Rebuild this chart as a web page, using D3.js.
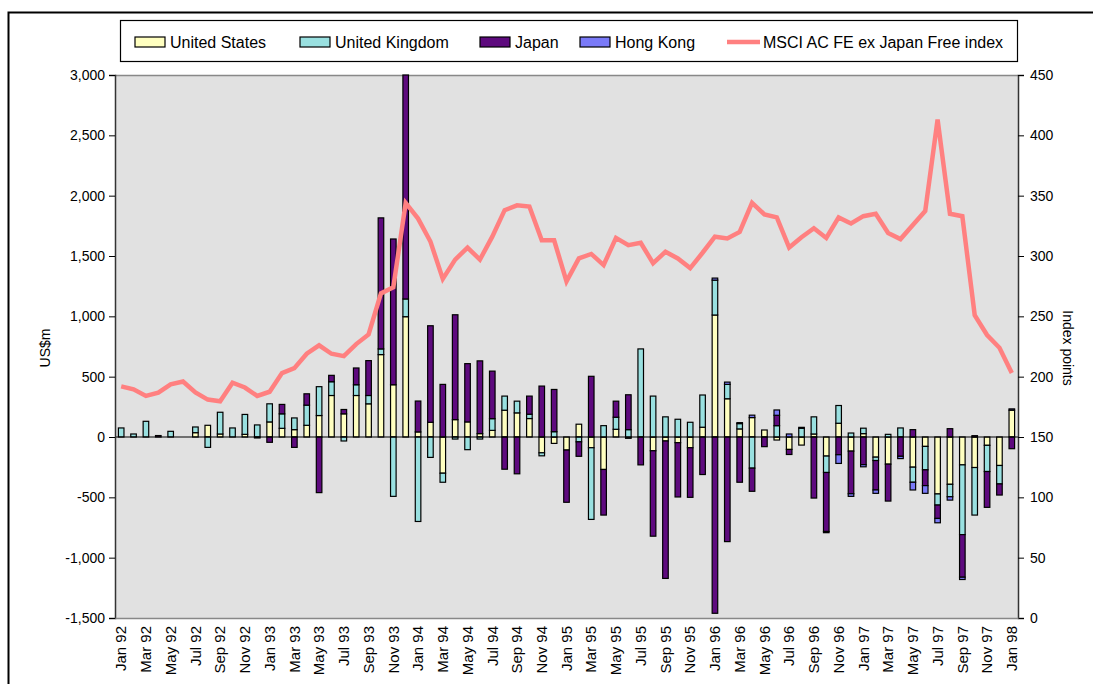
<!DOCTYPE html>
<html>
<head>
<meta charset="utf-8">
<script src="https://cdnjs.cloudflare.com/ajax/libs/d3/7.8.5/d3.min.js"></script>
<style>
  body { margin: 0; background: #fff; }
  text { font-family: "Liberation Sans", Arial, sans-serif; fill: #000; }
</style>
</head>
<body>
<div id="chart"></div>
<script>
// monthly categories, Jan 92 .. Jan 98
var months = [
  "Jan 92","Feb 92","Mar 92","Apr 92","May 92","Jun 92","Jul 92","Aug 92","Sep 92","Oct 92","Nov 92","Dec 92",
  "Jan 93","Feb 93","Mar 93","Apr 93","May 93","Jun 93","Jul 93","Aug 93","Sep 93","Oct 93","Nov 93","Dec 93",
  "Jan 94","Feb 94","Mar 94","Apr 94","May 94","Jun 94","Jul 94","Aug 94","Sep 94","Oct 94","Nov 94","Dec 94",
  "Jan 95","Feb 95","Mar 95","Apr 95","May 95","Jun 95","Jul 95","Aug 95","Sep 95","Oct 95","Nov 95","Dec 95",
  "Jan 96","Feb 96","Mar 96","Apr 96","May 96","Jun 96","Jul 96","Aug 96","Sep 96","Oct 96","Nov 96","Dec 96",
  "Jan 97","Feb 97","Mar 97","Apr 97","May 97","Jun 97","Jul 97","Aug 97","Sep 97","Oct 97","Nov 97","Dec 97",
  "Jan 98"];

// flows, US$m
var unitedStates = [
  0,0,0,0,0,0,36,97,25,0,22,0,
  125,72,61,97,178,344,192,344,275,683,433,997,
  42,122,-300,144,125,28,55,222,200,153,-131,-53,
  -108,106,-89,-269,64,-11,0,-114,-33,-47,-89,81,
  1011,317,67,161,58,-25,-103,-67,25,-158,114,-117,
  28,-167,-225,0,-250,-78,-472,-392,-231,-253,-69,-236,
  222];
var unitedKingdom = [
  75,25,130,0,47,0,47,-86,180,75,165,100,
  150,120,97,167,239,114,-33,89,69,47,-492,147,
  -700,-169,-75,-17,-105,-17,97,117,97,36,-25,44,
  0,-40,-594,94,100,61,730,339,167,147,122,267,
  289,119,44,-258,0,94,0,72,142,-136,147,33,
  45,-28,22,75,-125,-194,-92,-103,-578,-394,-217,-153,
  0];
var japan = [
  0,0,0,12,0,0,0,0,0,0,0,-8,
  -44,78,-86,94,-461,53,36,139,289,1086,1208,1856,
  256,800,436,869,483,603,394,-267,-305,150,422,350,
  -433,-120,503,-378,133,289,-231,-708,-1139,-450,-411,-311,
  -1461,-867,-375,-192,-80,86,-42,0,-506,-489,-147,-353,
  -229,-244,-306,-160,61,-131,-111,69,-353,11,-297,-92,
  -97];
var hongKong = [
  0,0,0,0,0,0,0,0,0,0,0,0,
  0,0,0,0,0,0,0,0,0,0,0,0,
  0,0,0,0,0,0,0,0,0,0,0,0,
  0,0,0,0,0,0,0,0,0,0,0,0,
  17,19,8,20,0,44,25,8,0,-10,-72,-22,
  -18,-28,0,-19,-64,-64,-36,-28,-19,0,0,0,
  11];
// MSCI AC FE ex Japan Free index, index points
var msciIndex = [
  192,189.5,184,186.7,193.6,196,187,181,179.6,195,191,184,
  187.5,203,207,219,226,219,217,227,235,269,274,344,
  331,312,281,297,307,297,316,338,342,341,313,313,
  279,298,301.7,292.5,315,309,311,294,303.5,298,290,302.7,
  316,314.6,320,344,334.5,332,307,315.5,323,315,332,327,
  333,335,319,314,325.7,337.3,413,335,333,251,234.5,224,
  203];

var seriesNames = ["United States", "United Kingdom", "Japan", "Hong Kong"];
var seriesColors = ["#FFFFC0", "#99E0E0", "#5E0A7E", "#7A7AF8"];
var lineName = "MSCI AC FE ex Japan Free index";
var lineColor = "#FF8080";
var leftTicks = [-1500, -1000, -500, 0, 500, 1000, 1500, 2000, 2500, 3000];
var rightTicks = [0, 50, 100, 150, 200, 250, 300, 350, 400, 450];

var W = 1093, H = 684;
var plot = {left: 115, right: 1018, top: 75, bottom: 618};

var svg = d3.select("#chart").append("svg")
    .attr("width", W)
    .attr("height", H);

// outer frame (runs off the right and bottom edges)
svg.append("rect")
    .attr("x", 8.5).attr("y", 12.5)
    .attr("width", 1200).attr("height", 800)
    .attr("fill", "none")
    .attr("stroke", "#000")
    .attr("stroke-width", 2);

// table for the stack
var table = months.map(function(m, i) {
  return {
    month: m,
    "United States": unitedStates[i],
    "United Kingdom": unitedKingdom[i],
    "Japan": japan[i],
    "Hong Kong": hongKong[i]
  };
});

var x = d3.scaleBand()
    .domain(months)
    .range([plot.left, plot.right])
    .paddingInner(0.55)
    .paddingOuter(0.275);

var y = d3.scaleLinear()
    .domain([-1500, 3000])
    .range([plot.bottom, plot.top]);

var y2 = d3.scaleLinear()
    .domain([0, 450])
    .range([plot.bottom, plot.top]);

// plot background
svg.append("rect")
    .attr("x", plot.left).attr("y", plot.top)
    .attr("width", plot.right - plot.left)
    .attr("height", plot.bottom - plot.top)
    .attr("fill", "#E1E1E1");
svg.append("line")
    .attr("x1", plot.left).attr("x2", plot.right)
    .attr("y1", plot.top + 0.5).attr("y2", plot.top + 0.5)
    .attr("stroke", "#888").attr("stroke-width", 1.5);

// stacked bars, positives up and negatives down
var stacked = d3.stack()
    .keys(seriesNames)
    .offset(d3.stackOffsetDiverging)(table);

svg.append("g")
  .selectAll("g")
  .data(stacked)
  .enter().append("g")
    .attr("fill", function(d, i) { return seriesColors[i]; })
  .selectAll("rect")
  .data(function(d) { return d.filter(function(v) { return v[1] !== v[0]; }); })
  .enter().append("rect")
    .attr("x", function(d) { return x(d.data.month); })
    .attr("width", x.bandwidth())
    .attr("y", function(d) { return y(Math.max(d[0], d[1])); })
    .attr("height", function(d) { return Math.abs(y(d[0]) - y(d[1])); })
    .attr("stroke", "#000")
    .attr("stroke-width", 1.2);

// zero line
svg.append("line")
    .attr("x1", plot.left).attr("x2", plot.right)
    .attr("y1", y(0)).attr("y2", y(0))
    .attr("stroke", "#000").attr("stroke-width", 1.2);

// index line
var line = d3.line()
    .x(function(d, i) { return x(months[i]) + x.bandwidth() / 2; })
    .y(function(d) { return y2(d); });
svg.append("path")
    .datum(msciIndex)
    .attr("d", line)
    .attr("fill", "none")
    .attr("stroke", lineColor)
    .attr("stroke-width", 4.5)
    .attr("stroke-linejoin", "miter");

// left axis, plain hyphen for negatives
var fmt = d3.format(",");
var gLeft = svg.append("g")
    .attr("transform", "translate(" + plot.left + ",0)")
    .call(d3.axisLeft(y).tickValues(leftTicks)
      .tickFormat(function(d) { return fmt(d).replace("\u2212", "-"); })
      .tickSize(6).tickPadding(4));
gLeft.select(".domain").attr("stroke", "#333").attr("stroke-width", 1.5);
gLeft.selectAll("text").style("font-size", "14px").style("font-family", "Liberation Sans, Arial, sans-serif");

// right axis
var gRight = svg.append("g")
    .attr("transform", "translate(" + plot.right + ",0)")
    .call(d3.axisRight(y2).tickValues(rightTicks).tickSize(6).tickPadding(6));
gRight.select(".domain").attr("stroke", "#333").attr("stroke-width", 1.5);
gRight.selectAll("text").style("font-size", "14px").style("font-family", "Liberation Sans, Arial, sans-serif");

// bottom axis, every second month
var gBottom = svg.append("g")
    .attr("transform", "translate(0," + plot.bottom + ")")
    .call(d3.axisBottom(x).tickValues(months.filter(function(d, i) { return i % 2 === 0; })).tickSize(0));
gBottom.select(".domain").attr("stroke", "#888").attr("stroke-width", 1.5);
gBottom.selectAll("text")
    .attr("transform", "rotate(-90)")
    .attr("x", -8)
    .attr("y", 0)
    .attr("dy", "0.35em")
    .style("text-anchor", "end")
    .style("font-size", "15px")
    .style("font-family", "Liberation Sans, Arial, sans-serif");

// axis titles
svg.append("text")
    .attr("transform", "translate(50,348) rotate(-90)")
    .attr("text-anchor", "middle")
    .style("font-size", "14px")
    .text("US$m");
svg.append("text")
    .attr("transform", "translate(1063,348) rotate(90)")
    .attr("text-anchor", "middle")
    .style("font-size", "14px")
    .text("Index points");

// legend
var legend = svg.append("g");
legend.append("rect")
    .attr("x", 120.5).attr("y", 20.5)
    .attr("width", 897).attr("height", 41)
    .attr("fill", "#fff")
    .attr("stroke", "#000")
    .attr("stroke-width", 1.2);

var legendX = [135, 300, 480, 580];
seriesNames.forEach(function(name, i) {
  legend.append("rect")
      .attr("x", legendX[i]).attr("y", 37)
      .attr("width", 30).attr("height", 10)
      .attr("fill", seriesColors[i])
      .attr("stroke", "#000")
      .attr("stroke-width", 1.2);
  legend.append("text")
      .attr("x", legendX[i] + 35).attr("y", 42)
      .attr("dy", "0.35em")
      .style("font-size", "16px")
      .text(name);
});
legend.append("line")
    .attr("x1", 727).attr("x2", 760)
    .attr("y1", 42).attr("y2", 42)
    .attr("stroke", lineColor)
    .attr("stroke-width", 4.5);
legend.append("text")
    .attr("x", 763).attr("y", 42)
    .attr("dy", "0.35em")
    .style("font-size", "16px")
    .text(lineName);
</script>
</body>
</html>
